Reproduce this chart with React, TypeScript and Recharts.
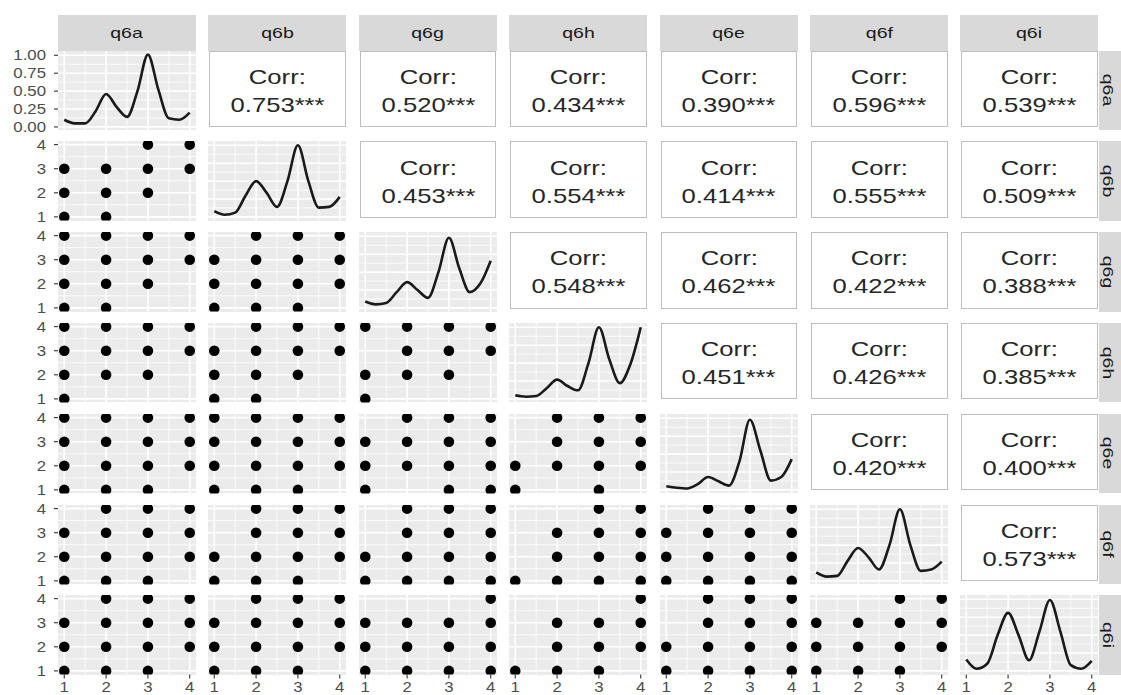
import { LineChart, Line, ScatterChart, Scatter, XAxis, YAxis, ReferenceLine } from "recharts";

const vars = ["q6a", "q6b", "q6g", "q6h", "q6e", "q6f", "q6i"];

// density curves read at x = 1 .. 4 (relative height, peak ~ 1)
const densX = [1, 1.25, 1.5, 1.75, 2, 2.25, 2.5, 2.75, 3, 3.25, 3.5, 3.75, 4];
const dens_q6a = [0.1, 0.05, 0.05, 0.22, 0.46, 0.28, 0.14, 0.5, 1.01, 0.52, 0.12, 0.1, 0.2];
const dens_q6b = [0.08, 0.03, 0.06, 0.3, 0.5, 0.34, 0.14, 0.5, 1.0, 0.5, 0.13, 0.14, 0.28];
const dens_q6g = [0.09, 0.05, 0.07, 0.22, 0.36, 0.25, 0.14, 0.5, 0.98, 0.55, 0.22, 0.34, 0.66];
const dens_q6h = [0.05, 0.03, 0.04, 0.15, 0.27, 0.18, 0.12, 0.5, 1.0, 0.55, 0.22, 0.48, 1.0];
const dens_q6e = [0.05, 0.03, 0.02, 0.08, 0.18, 0.12, 0.06, 0.4, 0.98, 0.55, 0.13, 0.18, 0.43];
const dens_q6f = [0.12, 0.06, 0.07, 0.28, 0.46, 0.33, 0.16, 0.5, 1.0, 0.5, 0.14, 0.16, 0.27];
const dens_q6i = [0.16, 0.03, 0.1, 0.5, 0.81, 0.5, 0.15, 0.55, 0.99, 0.55, 0.08, 0.03, 0.14];
const densities = [dens_q6a, dens_q6b, dens_q6g, dens_q6h, dens_q6e, dens_q6f, dens_q6i];

// scatter panels: x values present at y = 4, 3, 2, 1
const sc_q6b_q6a = [[3, 4], [1, 2, 3, 4], [1, 2, 3], [1, 2]];
const sc_q6g_q6a = [[1, 2, 3, 4], [1, 2, 3, 4], [1, 2, 3], [1, 2]];
const sc_q6g_q6b = [[2, 3, 4], [1, 2, 3, 4], [1, 2, 3, 4], [1, 2, 3]];
const sc_q6h_q6a = [[1, 2, 3, 4], [1, 2, 3, 4], [1, 2, 3], [1]];
const sc_q6h_q6b = [[2, 3, 4], [1, 2, 3, 4], [1, 2, 3], [1, 2]];
const sc_q6h_q6g = [[1, 2, 3, 4], [2, 3, 4], [1, 2, 3], [1]];
const sc_q6e_q6a = [[1, 2, 3, 4], [1, 2, 3, 4], [1, 2, 3, 4], [1, 2, 3]];
const sc_q6e_q6b = [[1, 2, 3, 4], [1, 2, 3, 4], [1, 2, 3, 4], [1, 2, 3]];
const sc_q6e_q6g = [[2, 3, 4], [1, 2, 3, 4], [1, 2, 3, 4], [1, 3, 4]];
const sc_q6e_q6h = [[2, 3, 4], [2, 3, 4], [1, 2, 3, 4], [1, 3]];
const sc_q6f_q6a = [[2, 3, 4], [1, 2, 3, 4], [1, 2, 3, 4], [1, 2, 3]];
const sc_q6f_q6b = [[2, 3, 4], [2, 3, 4], [1, 2, 3, 4], [1, 2, 3]];
const sc_q6f_q6g = [[2, 3, 4], [2, 3, 4], [1, 2, 3, 4], [1, 2, 3, 4]];
const sc_q6f_q6h = [[3, 4], [2, 3, 4], [2, 3, 4], [1, 2, 3, 4]];
const sc_q6f_q6e = [[2, 3, 4], [1, 2, 3, 4], [1, 2, 3, 4], [1, 2, 3, 4]];
const sc_q6i_q6a = [[2, 3, 4], [1, 2, 3, 4], [1, 2, 3, 4], [1, 2, 3]];
const sc_q6i_q6b = [[2, 3, 4], [1, 2, 3, 4], [1, 2, 3, 4], [1, 2, 3]];
const sc_q6i_q6g = [[4], [1, 2, 3, 4], [1, 2, 3, 4], [1, 2, 3, 4]];
const sc_q6i_q6h = [[4], [2, 3, 4], [2, 3, 4], [1, 2, 3]];
const sc_q6i_q6e = [[2, 3, 4], [2, 3, 4], [1, 2, 3, 4], [1, 2, 3, 4]];
const sc_q6i_q6f = [[3, 4], [1, 2, 3, 4], [1, 2, 3, 4], [1, 2, 3]];

const lower: Record<string, number[][]> = {
  "1-0": sc_q6b_q6a,
  "2-0": sc_q6g_q6a, "2-1": sc_q6g_q6b,
  "3-0": sc_q6h_q6a, "3-1": sc_q6h_q6b, "3-2": sc_q6h_q6g,
  "4-0": sc_q6e_q6a, "4-1": sc_q6e_q6b, "4-2": sc_q6e_q6g, "4-3": sc_q6e_q6h,
  "5-0": sc_q6f_q6a, "5-1": sc_q6f_q6b, "5-2": sc_q6f_q6g, "5-3": sc_q6f_q6h, "5-4": sc_q6f_q6e,
  "6-0": sc_q6i_q6a, "6-1": sc_q6i_q6b, "6-2": sc_q6i_q6g, "6-3": sc_q6i_q6h, "6-4": sc_q6i_q6e, "6-5": sc_q6i_q6f,
};

// correlations, each row against the variables to its right
const corr_q6a = ["0.753", "0.520", "0.434", "0.390", "0.596", "0.539"];
const corr_q6b = ["0.453", "0.554", "0.414", "0.555", "0.509"];
const corr_q6g = ["0.548", "0.462", "0.422", "0.388"];
const corr_q6h = ["0.451", "0.426", "0.385"];
const corr_q6e = ["0.420", "0.400"];
const corr_q6f = ["0.573"];
const corrRows = [corr_q6a, corr_q6b, corr_q6g, corr_q6h, corr_q6e, corr_q6f];

const levels = [1, 2, 3, 4];
const minorLevels = [1.5, 2.5, 3.5];
const densTicks = [0, 0.25, 0.5, 0.75, 1];
const densMinor = [0.125, 0.375, 0.625, 0.875];

const FONT = '"Liberation Sans", Arial, Helvetica, sans-serif';
const COL0 = 58, COL_STEP = 150.4, PW = 138;
const ROW0 = 50.5, ROW_STEP = 90.8, PH = 79.5;
const YAXIS_W = 58, XAXIS_H = 20, PAD = 8;
const colX = (c: number) => COL0 + COL_STEP * c;
const rowY = (r: number) => ROW0 + ROW_STEP * r;

const tickText = (anchor: string, dy: string, fmt: (v: number) => string) => (props: any) => {
  const { x, y, payload } = props;
  return (
    <text transform={`translate(${x},${y}) scale(1.2,1)`} textAnchor={anchor} dy={dy}
      fontSize={14} fill="#4D4D4D" fontFamily={FONT}>{fmt(payload.value)}</text>
  );
};

const gridLines = (xs: number[], xm: number[], ys: number[], ym: number[]) => [
  ...xm.map((v) => <ReferenceLine key={`xm${v}`} x={v} stroke="#fff" strokeWidth={0.8} />),
  ...ym.map((v) => <ReferenceLine key={`ym${v}`} y={v} stroke="#fff" strokeWidth={0.8} />),
  ...xs.map((v) => <ReferenceLine key={`x${v}`} x={v} stroke="#fff" strokeWidth={1.6} />),
  ...ys.map((v) => <ReferenceLine key={`y${v}`} y={v} stroke="#fff" strokeWidth={1.6} />),
];

const Dot = (p: any) => <circle cx={p.cx} cy={p.cy} r={5.3} fill="#000" />;

function xAxisEl(show: boolean) {
  return (
    <XAxis type="number" dataKey="x" domain={[0.85, 4.15]} ticks={levels} interval={0} allowDataOverflow
      hide={!show} height={XAXIS_H} axisLine={false} tickSize={4} tickMargin={4}
      tickLine={{ stroke: "#333", strokeWidth: 1.1 }} tick={tickText("middle", "0.71em", (v) => String(v))} />
  );
}

function Panel({ r, c }: { r: number; c: number }) {
  const left = colX(c) - (c === 0 ? YAXIS_W : 0);
  const top = rowY(r) - PAD;
  const w = PW + (c === 0 ? YAXIS_W : 0);
  const h = PH + 2 * PAD + (r === 6 ? XAXIS_H : 0);
  const margin = { top: PAD, right: 0, bottom: PAD, left: 0 };
  const yAxisCommon = {
    type: "number" as const, dataKey: "y", allowDataOverflow: true, hide: c !== 0, width: YAXIS_W,
    axisLine: false, tickSize: 4, tickMargin: 8, interval: 0 as const,
    tickLine: { stroke: "#333", strokeWidth: 1.1 },
  };

  if (r === c) {
    const rows = densX.map((x, i) => ({ x, y: densities[r][i] }));
    return (
      <>
        <div style={{ position: "absolute", left: colX(c), top: rowY(r), width: PW, height: PH, background: "#EBEBEB" }} />
        <div style={{ position: "absolute", left, top }}>
          <LineChart width={w} height={h} data={rows} margin={margin}>
            {xAxisEl(r === 6)}
            <YAxis {...yAxisCommon} domain={[-0.05, 1.06]} ticks={densTicks}
              tick={tickText("end", "0.35em", (v) => v.toFixed(2))} />
            {gridLines(levels, minorLevels, densTicks, densMinor)}
            <Line type="monotone" dataKey="y" stroke="#1A1A1A" strokeWidth={2.6} dot={false}
              activeDot={false} isAnimationActive={false} />
          </LineChart>
        </div>
      </>
    );
  }

  if (r > c) {
    const rowsByY = lower[`${r}-${c}`];
    const pts = rowsByY.flatMap((xs, i) => xs.map((x) => ({ x, y: 4 - i })));
    return (
      <>
        <div style={{ position: "absolute", left: colX(c), top: rowY(r), width: PW, height: PH, background: "#EBEBEB" }} />
        <div style={{ position: "absolute", left, top }}>
          <ScatterChart width={w} height={h} margin={margin}>
            {xAxisEl(r === 6)}
            <YAxis {...yAxisCommon} domain={[0.85, 4.15]} ticks={levels}
              tick={tickText("end", "0.35em", (v) => String(v))} />
            {gridLines(levels, minorLevels, levels, minorLevels)}
            <Scatter data={pts} shape={Dot} isAnimationActive={false} />
          </ScatterChart>
        </div>
      </>
    );
  }

  const value = corrRows[r][c - r - 1];
  return (
    <div style={{
      position: "absolute", left: colX(c) + 1, top: rowY(r), width: PW - 1.5, height: PH - 3,
      background: "#fff", border: "1px solid #BDBDBD", boxSizing: "border-box", paddingTop: 4,
      display: "flex", flexDirection: "column", alignItems: "center", justifyContent: "center",
      fontFamily: FONT, fontSize: 21, lineHeight: "28px", color: "#262626",
    }}>
      <div style={{ transform: "scale(1.22,1)" }}>Corr:</div>
      <div style={{ transform: "scale(1.22,1)" }}>{value}***</div>
    </div>
  );
}

export default function App() {
  const cells: JSX.Element[] = [];
  for (let r = 0; r < 7; r++) {
    for (let c = 0; c < 7; c++) cells.push(<Panel key={`${r}-${c}`} r={r} c={c} />);
  }
  return (
    <div style={{ position: "absolute", left: 0, top: 0, width: 1121, height: 695, background: "#fff", overflow: "hidden", fontFamily: FONT }}>
      {vars.map((v, c) => (
        <div key={`top-${v}`} style={{
          position: "absolute", left: colX(c), top: 15, width: PW, height: ROW0 - 15, background: "#D9D9D9",
          display: "flex", alignItems: "center", justifyContent: "center",
        }}>
          <span style={{ fontSize: 15, color: "#1A1A1A", transform: "scale(1.3,1)" }}>{v}</span>
        </div>
      ))}
      {vars.map((v, r) => (
        <div key={`side-${v}`} style={{
          position: "absolute", left: colX(6) + PW + 0.5, top: rowY(r), width: 36, height: PH, background: "#D9D9D9",
        }}>
          <div style={{
            position: "absolute", left: 9.6, top: PH / 2, whiteSpace: "nowrap", lineHeight: 1,
            transform: "translate(-50%,-50%) rotate(90deg) scale(1.3,1)", fontSize: 15, color: "#1A1A1A",
          }}>{v}</div>
        </div>
      ))}
      {cells}
    </div>
  );
}
